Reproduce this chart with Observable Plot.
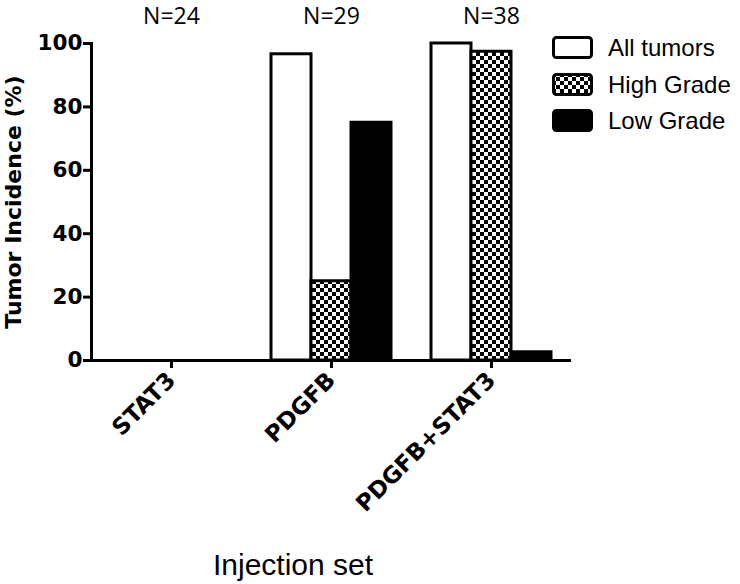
<!DOCTYPE html>
<html>
<head>
<meta charset="utf-8">
<script src="https://cdn.jsdelivr.net/npm/d3@7"></script>
<script src="https://cdn.jsdelivr.net/npm/@observablehq/plot@0.6"></script>
<style>
  body { margin: 0; background: white; }
  #wrap { position: relative; width: 740px; height: 584px; overflow: hidden; background: white; }
  #legend { position: absolute; left: 552px; top: 30px; font-family: "Liberation Sans", Arial, sans-serif; font-size: 24px; color: #000; }
  .row { display: flex; align-items: center; height: 36.5px; }
  .row svg { margin-right: 14px; }
  #xtitle { position: absolute; left: 213px; top: 548px; font-family: "Liberation Sans", Arial, sans-serif; font-size: 30px; color: #000; white-space: nowrap; }
  #ytitle { position: absolute; left: 13px; top: 202px; transform: translate(-50%, -50%) rotate(-90deg); font-family: "DejaVu Sans", sans-serif; font-weight: bold; font-size: 22px; color: #000; white-space: nowrap; }
</style>
</head>
<body>
<div id="wrap">
<svg width="0" height="0" style="position:absolute">
  <defs>
    <pattern id="checker" width="8" height="8" patternUnits="userSpaceOnUse">
      <rect width="8" height="8" fill="white"></rect>
      <rect x="0" y="0" width="4" height="4" fill="black"></rect>
      <rect x="4" y="4" width="4" height="4" fill="black"></rect>
    </pattern>
  </defs>
</svg>
<div id="legend"></div>
<div id="xtitle">Injection set</div>
<div id="ytitle">Tumor Incidence (%)</div>
</div>
<script>
const categories = ["STAT3", "PDGFB", "PDGFB+STAT3"];
const counts = ["N=24", "N=29", "N=38"];
const series = ["All tumors", "High Grade", "Low Grade"];
const allTumors = [0, 96.6, 100];
const highGrade = [0, 25, 97.4];
const lowGrade = [0, 75, 2.6];
const yTicks = [0, 20, 40, 60, 80, 100];
const fills = ["white", "url(#checker)", "black"];

const values = [allTumors, highGrade, lowGrade];
const data = [];
categories.forEach((c, i) => {
  series.forEach((s, j) => data.push({cat: c, series: s, value: values[j][i]}));
});
const nData = categories.map((c, i) => ({cat: c, n: counts[i]}));

const plot = Plot.plot({
  width: 740,
  height: 584,
  marginLeft: 91,
  marginRight: 169,
  marginTop: 43,
  marginBottom: 224,
  style: {fontFamily: "DejaVu Sans", background: "transparent", overflow: "visible", color: "black"},
  fx: {domain: categories, padding: 0, axis: null},
  x: {domain: series, paddingInner: 0, paddingOuter: 0.5, axis: null},
  y: {domain: [0, 100], axis: null},
  color: {domain: series, range: fills},
  marks: [
    Plot.barY(data, {fx: "cat", x: "series", y: "value", fill: "series", stroke: "black", strokeWidth: 3}),
    Plot.ruleY([0], {strokeWidth: 3}),
    Plot.frame({anchor: "left", facetAnchor: "left", strokeWidth: 3}),
    Plot.axisY({ticks: yTicks, tickSize: 8, tickPadding: 1, strokeWidth: 3, fontSize: 21.5, fontWeight: "bold", label: null}),
    Plot.axisFx({anchor: "bottom", tickSize: 8, tickPadding: 8, tickRotate: -45, strokeWidth: 3,
      fontSize: 23, fontWeight: "bold", label: null}),
    Plot.text(nData, {fx: "cat", text: "n", frameAnchor: "top", lineAnchor: "middle", dy: -27,
      fontFamily: "Open Sans", fontSize: 23})
  ]
});
document.getElementById("wrap").prepend(plot);
plot.style.position = "absolute";
plot.style.left = "0";
plot.style.top = "0";

// legend
const legend = d3.select("#legend");
series.forEach((s, j) => {
  const row = legend.append("div").attr("class", "row");
  const sw = row.append("svg").attr("width", 42).attr("height", 24);
  sw.append("rect").attr("x", 1.5).attr("y", 1.5).attr("width", 38).attr("height", 20).attr("rx", 3)
    .attr("fill", fills[j]).attr("stroke", "black").attr("stroke-width", 3);
  row.append("span").text(s);
});
</script>
</body>
</html>
